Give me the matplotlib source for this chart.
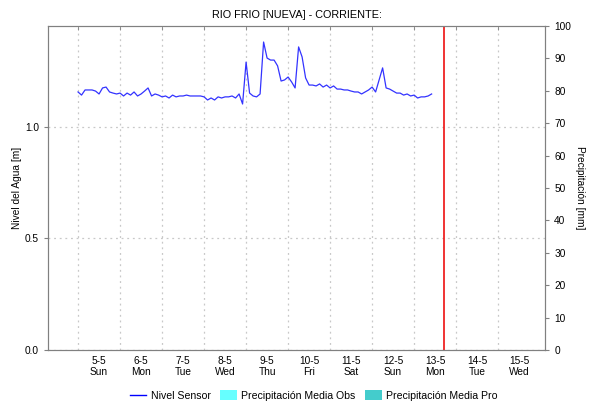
import numpy as np
import pandas as pd
import matplotlib.pyplot as plt
from matplotlib.lines import Line2D
from matplotlib.patches import Patch

plt.rcParams['font.family'] = ['Liberation Sans', 'DejaVu Sans']

# water level (m), every 2 hours from 5 May 00:00
nivel = [1.157, 1.143, 1.166, 1.166, 1.166, 1.161, 1.148, 1.175, 1.179, 1.157,
         1.152, 1.148, 1.152, 1.139, 1.152, 1.143, 1.157, 1.139, 1.148, 1.161,
         1.175, 1.139, 1.148, 1.143, 1.135, 1.139, 1.130, 1.143, 1.135, 1.139,
         1.139, 1.143, 1.139, 1.139, 1.139, 1.139, 1.135, 1.121, 1.130, 1.121,
         1.135, 1.130, 1.135, 1.135, 1.139, 1.130, 1.148, 1.103, 1.291, 1.152,
         1.139, 1.135, 1.148, 1.381, 1.309, 1.300, 1.300, 1.274, 1.206, 1.211,
         1.224, 1.202, 1.175, 1.359, 1.314, 1.220, 1.188, 1.188, 1.184, 1.193,
         1.179, 1.188, 1.175, 1.184, 1.170, 1.170, 1.166, 1.166, 1.161, 1.157,
         1.157, 1.148, 1.157, 1.166, 1.179, 1.157, 1.211, 1.265, 1.175, 1.170,
         1.161, 1.152, 1.152, 1.143, 1.148, 1.139, 1.143, 1.130, 1.135, 1.135,
         1.139, 1.148]
tiempo = pd.date_range('2024-05-05 00:00', periods=len(nivel), freq='2h')

dias = pd.date_range('2024-05-05', '2024-05-15', freq='D')
dia_sem = ['Sun', 'Mon', 'Tue', 'Wed', 'Thu', 'Fri', 'Sat', 'Sun', 'Mon', 'Tue', 'Wed']
ahora = pd.Timestamp('2024-05-13 17:10')
x_ini = pd.Timestamp('2024-05-04 06:50')
x_fin = pd.Timestamp('2024-05-16 02:50')

fig = plt.figure(figsize=(6.03, 4.12), dpi=100)
ax = fig.add_axes([0.0796, 0.1505, 0.8244, 0.7865])
ax2 = ax.twinx()

ax.plot(tiempo, nivel, color='#3333ff', lw=0.9)
ax.axvline(ahora, color='#ee1111', lw=1.2)

ax.set_xlim(x_ini, x_fin)
ax.set_ylim(0, 1.453)
ax2.set_ylim(0, 100)

gris = '#808080'
for a in (ax, ax2):
    for s in a.spines.values():
        s.set_color(gris)

# midnight grid lines, labels at noon
ax.set_xticks(dias, minor=True)
ax.set_xticks(dias + pd.Timedelta(hours=12))
ax.set_xticklabels([f'{d.day}-{d.month}\n{w}' for d, w in zip(dias, dia_sem)])
ax.tick_params(axis='x', which='major', length=0, labelsize=7.3, pad=4)
ax.tick_params(axis='x', which='minor', direction='in', top=True, bottom=False,
               length=3, color=gris)
ax.grid(True, which='minor', axis='x', color='#c8c8c8', ls=(0, (1.5, 3)), lw=0.9)

ax.set_yticks([0.0, 0.5, 1.0])
ax.set_yticklabels(['0.0', '0.5', '1.0'])
ax.tick_params(axis='y', labelsize=7.3, length=3, color=gris)
ax.grid(True, which='major', axis='y', color='#c8c8c8', ls=(0, (1.5, 3)), lw=0.9)

ax2.set_yticks(np.arange(0, 101, 10))
ax2.tick_params(axis='y', labelsize=7.3, length=3, color=gris)

ax.set_ylabel('Nivel del Agua [m]', fontsize=7.3, va='center')
ax.yaxis.set_label_coords(-0.062, 0.5)
ax2.set_ylabel('Precipitación [mm]', fontsize=7.3, rotation=270, va='center')
ax2.yaxis.set_label_coords(1.07, 0.5)
ax.set_title('RIO FRIO [NUEVA] - CORRIENTE:', fontsize=7.8, pad=6)

handles = [Line2D([], [], color='#0000ff', lw=1),
           Patch(facecolor='#66ffff'),
           Patch(facecolor='#44cccc')]
labels = ['Nivel Sensor', 'Precipitación Media Obs', 'Precipitación Media Pro']
fig.legend(handles, labels, loc='center', bbox_to_anchor=(0.52, 0.04), ncol=3,
           frameon=False, fontsize=7.6, handlelength=1.6, handleheight=1.0,
           handletextpad=0.4, columnspacing=0.9)

fig.savefig('out.png', dpi=100)
